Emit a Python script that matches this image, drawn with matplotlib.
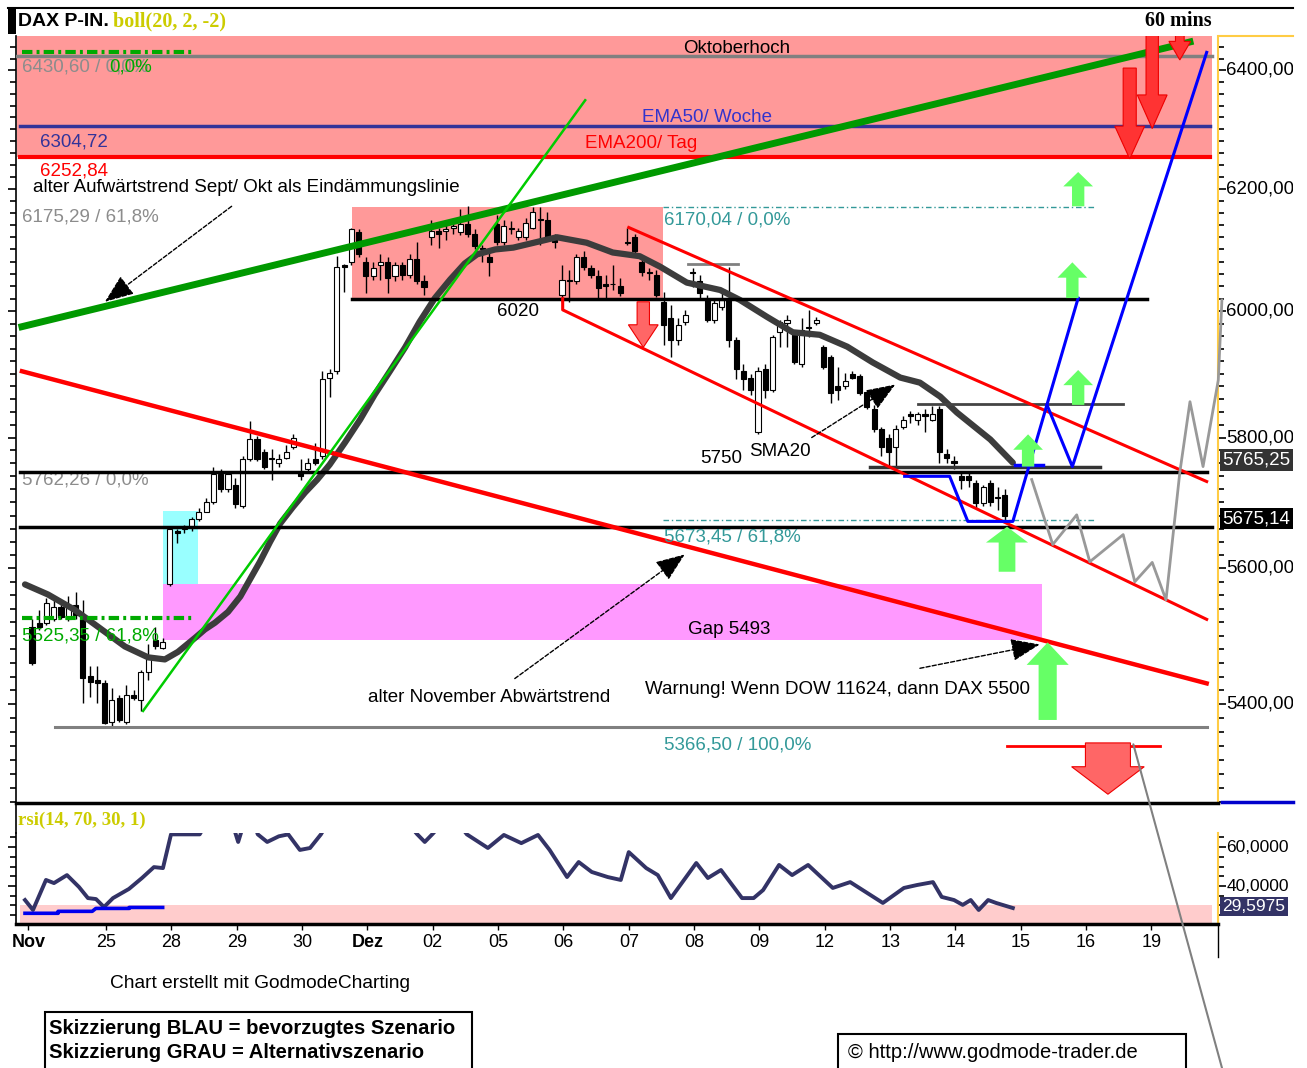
import numpy as np
import matplotlib.pyplot as plt
from matplotlib.patches import Polygon, Rectangle, ConnectionPatch
from matplotlib.lines import Line2D
from matplotlib.ticker import FixedLocator, NullFormatter

plt.rcParams['font.family'] = ['Liberation Sans', 'DejaVu Sans']
SERIF = ['Liberation Serif', 'DejaVu Serif']

W, H = 1307, 1068

# ---------------- data: DAX 60 min candles (bar index = hour) ----------------
opens = [5513, 5519, 5519, 5524, 5543, 5524, 5546, 5524, 5441, 5435,
         5431, 5374, 5409, 5374, 5413, 5406, 5446, 5493, 5482, 5576,
         5656, 5659, 5662, 5674, 5686, 5701, 5743, 5720, 5727, 5695,
         5766, 5797, 5777, 5769, 5761, 5769, 5785, 5747, 5751, 5766,
         5771, 5894, 5904, 6075, 6079, 6128, 6080, 6056, 6075, 6080,
         6056, 6075, 6059, 6084, 6048, 6120, 6130, 6130, 6136, 6128,
         6141, 6125, 6103, 6087, 6141, 6113, 6136, 6120, 6120, 6136,
         6149, 6149, 6116, 6026, 6051, 6048, 6087, 6069, 6056, 6043,
         6044, 6041, 6113, 6120, 6080, 6064, 6059, 6015, 5989, 5954,
         5983, 6064, 6048, 6018, 5986, 6007, 6021, 5954, 5904, 5894,
         5808, 5907, 5875, 5966, 5981, 5967, 5915, 5975, 5981, 5943,
         5927, 5880, 5880, 5899, 5896, 5872, 5844, 5813, 5800, 5786,
         5817, 5836, 5828, 5836, 5828, 5844, 5774, 5763, 5740, 5740,
         5730, 5699, 5730, 5709, 5712]
closes = [5460, 5512, 5549, 5543, 5528, 5546, 5531, 5438, 5432, 5431,
          5372, 5406, 5377, 5413, 5409, 5446, 5465, 5485, 5491, 5659,
          5653, 5660, 5674, 5685, 5701, 5743, 5720, 5743, 5698, 5766,
          5797, 5766, 5755, 5766, 5766, 5778, 5800, 5740, 5761, 5761,
          5891, 5902, 6072, 6072, 6133, 6092, 6056, 6070, 6080, 6054,
          6075, 6059, 6084, 6048, 6039, 6130, 6126, 6133, 6138, 6141,
          6125, 6105, 6100, 6080, 6113, 6138, 6134, 6130, 6144, 6161,
          6148, 6120, 6113, 6051, 6048, 6087, 6072, 6059, 6038, 6041,
          6043, 6029, 6111, 6097, 6064, 6062, 6026, 5978, 5954, 5978,
          5994, 6062, 6029, 5986, 6013, 6018, 5954, 5907, 5891, 5875,
          5904, 5875, 5959, 5983, 5986, 5919, 5970, 5973, 5986, 5911,
          5870, 5875, 5888, 5894, 5870, 5847, 5813, 5786, 5777, 5813,
          5828, 5834, 5836, 5834, 5836, 5777, 5769, 5761, 5735, 5735,
          5699, 5723, 5700, 5707, 5680]
highs = [5524, 5538, 5556, 5553, 5553, 5558, 5565, 5553, 5455, 5455,
         5435, 5424, 5413, 5428, 5421, 5450, 5487, 5513, 5497, 5662,
         5659, 5665, 5678, 5692, 5707, 5754, 5751, 5748, 5738, 5771,
         5825, 5803, 5782, 5782, 5774, 5789, 5806, 5766, 5769, 5792,
         5904, 5907, 6089, 6077, 6136, 6133, 6087, 6080, 6092, 6087,
         6080, 6080, 6092, 6113, 6059, 6149, 6136, 6141, 6146, 6166,
         6171, 6133, 6108, 6100, 6157, 6149, 6146, 6136, 6152, 6169,
         6169, 6162, 6125, 6075, 6067, 6092, 6097, 6075, 6067, 6059,
         6075, 6054, 6136, 6125, 6087, 6070, 6067, 6031, 6010, 5989,
         6002, 6070, 6059, 6026, 6018, 6029, 6072, 5958, 5915, 5899,
         5910, 5915, 5962, 5986, 5994, 5970, 5989, 6002, 5991, 5946,
         5930, 5911, 5902, 5904, 5899, 5875, 5851, 5816, 5805, 5820,
         5834, 5842, 5840, 5844, 5850, 5850, 5782, 5771, 5746, 5746,
         5735, 5727, 5735, 5724, 5720]
lows = [5457, 5509, 5516, 5521, 5524, 5521, 5524, 5402, 5410, 5402,
        5371, 5369, 5374, 5371, 5406, 5390, 5435, 5480, 5480, 5573,
        5639, 5653, 5657, 5671, 5685, 5698, 5716, 5716, 5692, 5692,
        5763, 5763, 5751, 5735, 5754, 5766, 5782, 5735, 5747, 5757,
        5766, 5864, 5900, 6031, 6074, 6087, 6029, 6051, 6051, 6029,
        6048, 6051, 6054, 6043, 6026, 6108, 6103, 6116, 6125, 6123,
        6120, 6100, 6079, 6056, 6108, 6108, 6125, 6116, 6116, 6133,
        6108, 6116, 6103, 6015, 6015, 6044, 6067, 6054, 6018, 6018,
        6034, 6025, 6108, 6092, 6057, 6051, 6023, 5946, 5926, 5946,
        5978, 6039, 6018, 5983, 5981, 6002, 5942, 5891, 5875, 5867,
        5805, 5862, 5872, 5942, 5943, 5915, 5911, 5959, 5977, 5907,
        5854, 5859, 5876, 5891, 5867, 5844, 5809, 5771, 5755, 5755,
        5813, 5823, 5820, 5809, 5825, 5761, 5760, 5751, 5720, 5723,
        5692, 5695, 5695, 5689, 5671]

# SMA20
sma_x = [-0.96, 2.2, 5.9, 9.1, 12.8, 16.0, 18.3, 20.1, 22.5, 23.8, 25.2, 27.0,
         28.7, 30.0, 31.4, 32.8, 34.2, 35.95, 37.6, 39.3, 41.0, 43.1, 45.2,
         47.2, 49.3, 51.4, 53.4, 55.5, 57.6, 59.6, 61.3, 63.8, 66.3, 72.3,
         76.4, 80.0, 83.7, 86.5, 90.2, 94.8, 97.5, 101.2, 104.8, 108.5, 112.3,
         115.8, 119.6, 122.3, 125.1, 127.4, 132.0, 135.1]
sma_v = [5576, 5561, 5538, 5513, 5484, 5468, 5465, 5476, 5497, 5509, 5519, 5535,
         5558, 5583, 5610, 5640, 5668, 5693, 5715, 5735, 5758, 5792, 5828,
         5867, 5904, 5942, 5983, 6021, 6051, 6077, 6092, 6100, 6103, 6120,
         6111, 6095, 6089, 6072, 6046, 6034, 6018, 5991, 5966, 5962, 5943,
         5918, 5894, 5886, 5864, 5839, 5797, 5761]

# RSI(14)
rsi_x = [-0.96, 0.14, 1.93, 3.03, 4.82, 6.47, 7.71, 8.82, 9.92, 11.16, 13.36,
         15.15, 16.8, 18.04, 19.15, 23.1, 23.8, 27.7, 28.4, 29.1, 30.7, 31.1,
         32.4, 34.0, 35.3, 36.9, 38.3, 39.8, 40.5, 52.1, 53.0, 54.1, 55.2, 56.2,
         59.0, 59.9, 62.8, 65.0, 67.4, 69.7, 71.3, 73.7, 75.3, 77.1, 79.3, 81.1,
         82.2, 84.6, 86.2, 88.0, 91.5, 93.1, 94.9, 97.8, 99.4, 100.7, 102.9,
         104.7, 106.9, 110.3, 112.7, 117.2, 120.1, 121.9, 124.1, 125.3, 127.0,
         128.2, 129.3, 130.4, 131.7, 132.8, 135.1]
rsi_v = [32.8, 27.7, 43.1, 41.5, 45.6, 39.5, 33.8, 33.3, 29.2, 33.8, 38.5,
         44.1, 49.7, 49.2, 66.5, 66.5, 71, 71, 62.6, 71, 71, 66.5,
         62.6, 65.5, 66.5, 58.5, 59.5, 66.5, 71, 71, 66.8, 62.6, 66.8, 71,
         71, 66.5, 59.5, 66.2, 62.0, 66.2, 58.5, 44.6, 52.3, 47.2, 44.6, 43.1,
         57.4, 49.2, 45.6, 33.8, 51.8, 44.1, 48.2, 33.8, 33.8, 37.9, 50.8,
         45.6, 50.8, 39.0, 42.0, 31.3, 39.0, 40.5, 42.0, 34.4, 32.8,
         30.3, 32.8, 27.7, 32.8, 31.3, 28.7]
rsi_sup_x = [-0.96, 3.6, 3.6, 8.3, 8.8, 13.4, 13.4, 18.0]
rsi_sup_v = [26.0, 26.0, 27.0, 27.0, 28.5, 28.5, 29.0, 29.0]

day_pos = [-0.5, 10.2, 19.2, 28.2, 37.2, 46.2, 55.2, 64.2, 73.2, 82.2, 91.2,
           100.2, 109.2, 118.2, 127.2, 136.2, 145.2, 154.2]
day_labels = ['Nov', '25', '28', '29', '30', 'Dez', '02', '05', '06', '07', '08',
              '09', '12', '13', '14', '15', '16', '19']

price_ticks = [5400, 5600, 5800, 6000, 6200, 6400]

# levels and drawn lines (bar index, price)
okt_high = 6424
ema50_week = 6304.72
ema200_day = 6252.84
support_6020 = 6020
fib_top = 6170.04
fib_618 = 5673.45
fib_100 = 5366.50
line_5750 = 5747
line_5663 = 5663
gap_top, gap_bottom = 5576, 5493
up_trend_x, up_trend_v = [-1.38, 159.5], [5975, 6449]
nov_trend_x, nov_trend_v = [-1.38, 161.8], [5904, 5430]
lime_x, lime_v = [15.3, 76.2], [5390, 6349]
chan_up_x, chan_up_v = [82.2, 161.8], [6136, 5732]
chan_lo_x, chan_lo_v = [73.1, 73.1, 161.8], [6020, 6002, 5524]
blue_a_x = [120.2, 126.4, 128.9, 135.1, 144.1]
blue_a_v = [5740, 5740, 5671, 5671, 6021]
blue_b_x = [139.8, 143.3, 161.8]
blue_b_v = [5851, 5755, 6431]
gray_alt_x = [137.7, 140.6, 143.9, 145.7, 150.3, 151.9, 154.3, 156.2, 158.1,
              159.5, 161.3, 163.4, 163.9]
gray_alt_v = [5735, 5636, 5681, 5610, 5651, 5580, 5609, 5553, 5746,
              5856, 5755, 5890, 6018]

# block arrows: centre bar, tail, tip, head base, head width, shaft width
green_arrows = [(144.1, 6171, 6228, 6204, 4.1, 1.7),
                (143.3, 6021, 6079, 6054, 4.1, 1.7),
                (144.1, 5851, 5906, 5882, 4.1, 1.7),
                (137.2, 5755, 5805, 5781, 4.1, 1.7),
                (134.3, 5595, 5663, 5639, 5.8, 2.3),
                (139.9, 5377, 5490, 5457, 5.8, 2.5)]
red_arrows = [(84.2, 6015, 5942, 5978, 4.1, 1.7, '#ff6666'),
              (151.2, 6404, 6250, 6305, 4.1, 1.8, '#ff3333'),
              (154.3, 6470, 6301, 6358, 4.1, 1.7, '#ff3333'),
              (158.1, 6470, 6418, 6450, 3.0, 1.2, '#ff3333'),
              (148.2, 5344, 5271, 5310, 10.0, 6.2, '#ff6666')]

# ---------------- figure ----------------
fig = plt.figure(figsize=(W / 100, H / 100), dpi=100)
fig.patch.set_facecolor('white')


def fx(px):
    return px / W


def fy(py):
    return 1 - py / H


YLIM = (5258.6, 6459.3)
XLIM = (-2.2, 163.36)

ax = fig.add_axes([fx(16), fy(803), fx(1218) - fx(16), fy(36) - fy(803)])
ax.set_yscale('log')
ax.set_ylim(*YLIM)
ax.set_xlim(*XLIM)
ax.yaxis.set_major_locator(FixedLocator(price_ticks))
ax.yaxis.set_minor_locator(FixedLocator([v for v in range(5260, 6460, 20) if v not in price_ticks]))
ax.yaxis.set_major_formatter(NullFormatter())
ax.yaxis.set_minor_formatter(NullFormatter())
ax.tick_params(axis='y', which='both', left=True, right=True, direction='out',
               labelleft=False, labelright=False, width=1.2)
ax.tick_params(axis='y', which='major', length=6)
ax.tick_params(axis='y', which='minor', length=4)
ax.set_xticks([])
ax.spines['top'].set_visible(False)
ax.spines['right'].set_color('#ffcc44')
ax.spines['right'].set_linewidth(1.5)
ax.spines['bottom'].set_linewidth(2.5)
ax.spines['left'].set_linewidth(1.2)

# zones
ax.fill_between([-2.07, 162.5], ema200_day, 6470, color='#ff9999', lw=0, zorder=1)
ax.fill_between([44.1, 86.9], support_6020, fib_top, color='#ff9999', lw=0, zorder=1)
ax.fill_between([18.0, 139.1], gap_bottom, gap_top, color='#ff99ff', lw=0, zorder=1)
ax.fill_between([18.0, 22.9], gap_top, 5687, color='#99ffff', lw=0, zorder=1)

# candles
bx = np.arange(len(closes))
o = np.array(opens, float)
c = np.array(closes, float)
ax.vlines(bx, lows, highs, color='black', lw=1, zorder=3)
bottoms = np.minimum(o, c)
heights = np.maximum(np.abs(c - o), 1.5)
faces = ['white' if cc >= oo else 'black' for oo, cc in zip(o, c)]
ax.bar(bx, heights, bottom=bottoms, width=0.7, color=faces, edgecolor='black',
       lw=0.8, zorder=3.5)

# SMA20
ax.plot(sma_x, sma_v, color='#3c3c3c', lw=4.5, solid_capstyle='round',
        solid_joinstyle='round', zorder=4)

# horizontal levels
ax.plot([-2.07, 162.5], [okt_high, okt_high], color='#808080', lw=2.5, zorder=4)
ax.plot([-1.4, 22.5], [6431, 6431], color='#00aa00', lw=3, dashes=(2.5, 1, 0.7, 1), zorder=4.5)
ax.plot([-1.65, 162.3], [ema50_week, ema50_week], color='#333399', lw=2.5, zorder=4)
ax.plot([-1.65, 162.3], [ema200_day, ema200_day], color='#ff0000', lw=3, zorder=4)
ax.plot([44.1, 153.6], [support_6020, support_6020], color='black', lw=2.5, zorder=4.5)
ax.plot([86.9, 146.4], [fib_top, fib_top], color='#339999', lw=1, dashes=(4, 2, 1, 2), zorder=4)
ax.plot([86.9, 146.4], [fib_618, fib_618], color='#339999', lw=1, dashes=(4, 2, 1, 2), zorder=4)
ax.plot([-1.65, 161.8], [line_5750, line_5750], color='black', lw=2.5, zorder=4.5)
ax.plot([115.4, 147.1], [5755, 5755], color='#333333', lw=2.5, zorder=4.5)
ax.plot([-1.65, 162.5], [line_5663, line_5663], color='black', lw=2.5, zorder=4.5)
ax.plot([3.2, 161.8], [fib_100, fib_100], color='#808080', lw=2.2, zorder=4)
ax.plot([-1.4, 22.5], [5525.35, 5525.35], color='#00aa00', lw=3, dashes=(2.5, 1, 0.7, 1), zorder=4.5)
ax.plot([90.4, 97.2], [6077, 6077], color='#808080', lw=2, zorder=4)
ax.plot([122.0, 150.3], [5853, 5853], color='#444444', lw=2, zorder=4)
ax.plot([134.3, 155.4], [5340, 5340], color='#ff0000', lw=2, zorder=4)

# trend lines
ax.plot(nov_trend_x, nov_trend_v, color='#ff0000', lw=3.2, zorder=5)
ax.plot(chan_up_x, chan_up_v, color='#ff0000', lw=2.2, zorder=5)
ax.plot(chan_lo_x, chan_lo_v, color='#ff0000', lw=2.2, zorder=5)
ax.plot(up_trend_x, up_trend_v, color='#009900', lw=5, zorder=5)
ax.plot(lime_x, lime_v, color='#00cc00', lw=1.8, zorder=5)

# scenarios
ax.plot(blue_a_x, blue_a_v, color='#0000ff', lw=2.2, zorder=6)
ax.plot(blue_b_x, blue_b_v, color='#0000ff', lw=2.2, zorder=6)
ax.plot([135.4, 139.3], [5758, 5758], color='#0000ff', lw=2.5, zorder=6)
ax.plot(gray_alt_x, gray_alt_v, color='#999999', lw=2, zorder=6, clip_on=False)


def block_arrow(xc, tail, tip, base, hw, sw, fc, ec):
    pts = [(xc - sw / 2, tail), (xc + sw / 2, tail), (xc + sw / 2, base),
           (xc + hw / 2, base), (xc, tip), (xc - hw / 2, base), (xc - sw / 2, base)]
    ax.add_patch(Polygon(pts, closed=True, fc=fc, ec=ec, lw=0.8, zorder=7))


for a in green_arrows:
    block_arrow(*a, fc='#66ff66', ec='none')
for a in red_arrows:
    block_arrow(*a[:6], fc=a[6], ec='#ee0000')

# thin pointer arrows
for tail, head in [((27.5, 6171), (10.05, 6015)),
                   ((66.5, 5437), (89.9, 5621)),
                   ((122.3, 5452), (138.8, 5487)),
                   ((107.4, 5800), (118.9, 5883))]:
    ax.annotate('', xy=head, xytext=tail, zorder=8,
                arrowprops=dict(arrowstyle='-|>,head_length=0.9,head_width=0.35',
                                mutation_scale=20, lw=1, color='black',
                                linestyle=(0, (3, 1.5)), shrinkA=0, shrinkB=0))

# texts
FS = 13.5
ax.text(0.14, 6203, 'alter Aufwärtstrend Sept/ Okt als Eindämmungslinie', fontsize=FS,
        va='center', zorder=9)
ax.text(-1.38, 6406, '6430,60 / 0,0%', fontsize=FS, color='#8c8c8c', va='center', zorder=9)
ax.text(10.7, 6406, '0,0%', fontsize=FS, color='#00aa00', va='center', zorder=9)
ax.text(1.1, 6278, '6304,72', fontsize=FS, color='#333399', va='center', zorder=9)
ax.text(1.1, 6230, '6252,84', fontsize=FS, color='#ff0000', va='center', zorder=9)
ax.text(-1.38, 6153, '6175,29 / 61,8%', fontsize=FS, color='#8c8c8c', va='center', zorder=9)
ax.text(-1.38, 5735, '5762,26 / 0,0%', fontsize=FS, color='#8c8c8c', va='center', zorder=3)
ax.text(-1.38, 5500, '5525,35 / 61,8%', fontsize=FS, color='#00aa00', va='center', zorder=9)
ax.text(87.05, 6148, '6170,04 / 0,0%', fontsize=FS, color='#339999', va='center', zorder=9)
ax.text(87.05, 5648, '5673,45 / 61,8%', fontsize=FS, color='#339999', va='center', zorder=9)
ax.text(87.05, 5341, '5366,50 / 100,0%', fontsize=FS, color='#339999', va='center', zorder=9)
ax.text(66.9, 5999, '6020', fontsize=FS, ha='center', va='center', zorder=9)
ax.text(95.0, 5767, '5750', fontsize=FS, ha='center', va='center', zorder=3)
ax.text(103.0, 5778, 'SMA20', fontsize=FS, ha='center', va='center', zorder=9)
ax.text(97.0, 6438, 'Oktoberhoch', fontsize=FS, ha='center', va='center', zorder=9)
ax.text(93.0, 6319, 'EMA50/ Woche', fontsize=FS, color='#3333cc', ha='center', va='center', zorder=9)
ax.text(83.9, 6276, 'EMA200/ Tag', fontsize=FS, color='#ff0000', ha='center', va='center', zorder=9)
ax.text(96.1, 5509, 'Gap 5493', fontsize=FS, ha='center', va='center', zorder=9)
ax.text(62.9, 5410, 'alter November Abwärtstrend', fontsize=FS, ha='center', va='center', zorder=9)
ax.text(111.0, 5421, 'Warnung! Wenn DOW 11624, dann DAX 5500', fontsize=FS, ha='center',
        va='center', zorder=9)

# right price labels (clipped at the frame edge)
lab = fig.add_axes([fx(1218), fy(803), fx(1293) - fx(1218), fy(36) - fy(803)])
lab.set_yscale('log')
lab.set_ylim(*YLIM)
lab.set_xlim(0, 1)
lab.axis('off')
lab.patch.set_visible(False)
for v in price_ticks:
    lab.text(0.11, v, f'{v},00', fontsize=FS, va='center', clip_on=True)
lab.text(0.06, 5765.25, '5765,25', fontsize=FS, va='center', color='white', clip_on=True,
         bbox=dict(boxstyle='square,pad=0.12', fc='#333333', ec='none'))
lab.text(0.06, 5675.14, '5675,14', fontsize=FS, va='center', color='white', clip_on=True,
         bbox=dict(boxstyle='square,pad=0.12', fc='black', ec='none'))

# ---------------- RSI panel ----------------
ar = fig.add_axes([fx(16), fy(924), fx(1218) - fx(16), fy(833) - fy(924)])
ar.set_xlim(*XLIM)
ar.set_ylim(20.5, 67.2)
ar.fill_between([-1.65, 162.5], 20.5, 30, color='#ffcccc', lw=0, zorder=1)
ar.plot(rsi_x, rsi_v, color='#333366', lw=2.8, zorder=3)
ar.plot(rsi_sup_x, rsi_sup_v, color='#0000ee', lw=2.6, zorder=3)
ar.yaxis.set_major_locator(FixedLocator([40, 60]))
ar.yaxis.set_minor_locator(FixedLocator([25, 30, 35, 45, 50, 55, 65]))
ar.yaxis.set_major_formatter(NullFormatter())
ar.tick_params(axis='y', which='both', left=True, right=True, direction='out', width=1.2)
ar.tick_params(axis='y', which='major', length=6)
ar.tick_params(axis='y', which='minor', length=4)
ar.set_xticks(day_pos)
ar.set_xticklabels(day_labels, fontsize=13)
for t in ar.get_xticklabels():
    if t.get_text() in ('Nov', 'Dez'):
        t.set_fontweight('bold')
ar.tick_params(axis='x', length=4, width=1, pad=3)
ar.spines['top'].set_visible(False)
ar.spines['right'].set_color('#ffcc44')
ar.spines['right'].set_linewidth(1.5)
ar.spines['bottom'].set_linewidth(2.5)
ar.spines['left'].set_linewidth(1.2)

rlab = fig.add_axes([fx(1218), fy(924), fx(1293) - fx(1218), fy(833) - fy(924)])
rlab.set_xlim(0, 1)
rlab.set_ylim(20.5, 67.2)
rlab.axis('off')
rlab.patch.set_visible(False)
rlab.text(0.11, 60, '60,0000', fontsize=12.5, va='center', clip_on=True)
rlab.text(0.11, 40, '40,0000', fontsize=12.5, va='center', clip_on=True)
rlab.text(0.06, 29.6, '29,5975', fontsize=12.5, va='center', color='white', clip_on=True,
          bbox=dict(boxstyle='square,pad=0.12', fc='#333366', ec='none'))

# ---------------- frame & header ----------------
fig.add_artist(Line2D([fx(8), fx(1293)], [fy(8), fy(8)], color='black', lw=1.5))
fig.add_artist(Rectangle((fx(8), fy(34)), fx(16) - fx(8), fy(8) - fy(34),
                         transform=fig.transFigure, fc='black', ec='none'))
fig.add_artist(Line2D([fx(16), fx(16)], [fy(803), fy(833)], color='black', lw=1.2))
fig.add_artist(Line2D([fx(1218), fx(1218)], [fy(924), fy(957)], color='black', lw=1))
fig.add_artist(Line2D([fx(1222), fx(1293)], [fy(802), fy(802)], color='#0000cc', lw=2.5))
fig.add_artist(Line2D([fx(1220), fx(1293)], [fy(36), fy(36)], color='#ffcc44', lw=1.5))
fig.add_artist(ConnectionPatch(xyA=(151.7, 5342), coordsA=ax.transData,
                               xyB=(fx(1222), 0), coordsB=fig.transFigure,
                               color='#808080', lw=1.5, zorder=10))

fig.text(fx(18), fy(21), 'DAX P-IN.', fontsize=14, fontweight='bold', va='center')
fig.text(fx(113), fy(21), 'boll(20, 2, -2)', fontsize=14.5, fontweight='bold',
         color='#cccc00', family=SERIF, va='center')
fig.text(fx(1212), fy(21), '60 mins', fontsize=14.5, fontweight='bold', family=SERIF,
         ha='right', va='center')
fig.text(fx(18), fy(820), 'rsi(14, 70, 30, 1)', fontsize=13.5, fontweight='bold',
         color='#cccc00', family=SERIF, va='center')

# ---------------- footer ----------------
fig.text(fx(260), fy(983), 'Chart erstellt mit GodmodeCharting', fontsize=13.8,
         ha='center', va='center')
fig.add_artist(Rectangle((fx(45), fy(1072)), fx(472) - fx(45), fy(1012) - fy(1072),
                         transform=fig.transFigure, fill=False, ec='black', lw=1.5))
fig.text(fx(49), fy(1028), 'Skizzierung BLAU = bevorzugtes Szenario', fontsize=14.6,
         fontweight='bold', va='center')
fig.text(fx(49), fy(1053), 'Skizzierung GRAU = Alternativszenario', fontsize=14.6,
         fontweight='bold', va='center')
fig.add_artist(Rectangle((fx(838), fy(1072)), fx(1186) - fx(838), fy(1034) - fy(1072),
                         transform=fig.transFigure, fill=False, ec='black', lw=1.5))
fig.text(fx(848), fy(1052), '© http://www.godmode-trader.de', fontsize=14.5,
         va='center')

fig.savefig('out.png', dpi=100, facecolor='white')
